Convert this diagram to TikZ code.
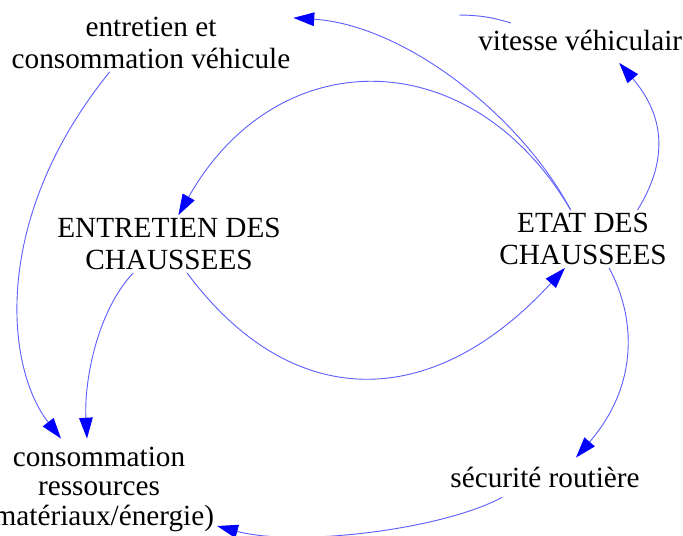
\documentclass[tikz,border=0pt]{standalone}
\usepackage{fontspec}
\setmainfont{Liberation Serif}
\usetikzlibrary{arrows.meta}

\definecolor{lienbleu}{RGB}{95,95,255}
\definecolor{pointebleu}{RGB}{0,0,255}

\begin{document}
\begin{tikzpicture}[
  x=0.025cm, y=-0.025cm,
  font=\fontsize{20.8pt}{22.8pt}\selectfont,
  var/.style={align=center, inner sep=2pt},
  lien/.style={
    -{Triangle[length=5.2mm, width=3.4mm, color=pointebleu]},
    draw=lienbleu, line width=0.65pt
  }
]
\useasboundingbox (0,0) rectangle (683,535);
\clip (0,0) rectangle (683,535);
\fill[white] (0,0) rectangle (683,535);

% ----- Variables -----
\node[var] (vehic) at (151,43) {entretien et\\consommation véhicule};
\node[var, anchor=base west, inner xsep=0pt] (vitesse) at (478,50.5) {vitesse véhiculair};
\node[var] (entr) at (169,244) {ENTRETIEN DES\\CHAUSSEES};
\node[var] (etat) at (583,239) {ETAT DES\\CHAUSSEES};
\node[var] (secu) at (545,477) {sécurité routière};
\node[var, font=\fontsize{20.8pt}{21pt}\selectfont] (conso) at (99,489)
  {consommation\\ressources\\(matériaux/énergie)};

% ----- Liens depuis l'état des chaussées -----
\draw[lien] (etat.113) .. controls +(-51,-96) and +(110,7) .. (vehic.10);
\draw[lien] (etat.28) .. controls +(28,-45) and +(49,57) .. ([shift={(39,9)}]vitesse.south);
\draw[lien] (etat.113) .. controls +(-99,-169) and +(99,-175) .. (entr.72);
\draw[lien] (etat.-48) .. controls +(26,48) and +(64,-74) .. ([shift={(31,-6)}]secu.north);

% ----- Boucle entretien / état -----
\draw[lien] (entr.-58) .. controls +(104,140) and +(-133,145) .. (etat.-122);

% ----- Vers la consommation de ressources -----
\draw[lien] ([shift={(-43,7)}]secu.south) .. controls +(-62,33) and +(78,21) .. ([shift={(0,37)}]conso.east);
\draw[lien] (vehic.-145) .. controls +(-120,148) and +(-55,-70) .. ([shift={(-38,-5)}]conso.north);
\draw[lien] (entr.-141) .. controls +(-36,38) and +(-3,-58) .. ([shift={(-12,-5)}]conso.north);

% fragment de lien en haut
\coordinate (fragA) at (459,15);
\coordinate (fragB) at (511,23);
\draw[draw=lienbleu, line width=0.65pt] (fragA) to[bend left=8] (fragB);

\end{tikzpicture}
\end{document}
